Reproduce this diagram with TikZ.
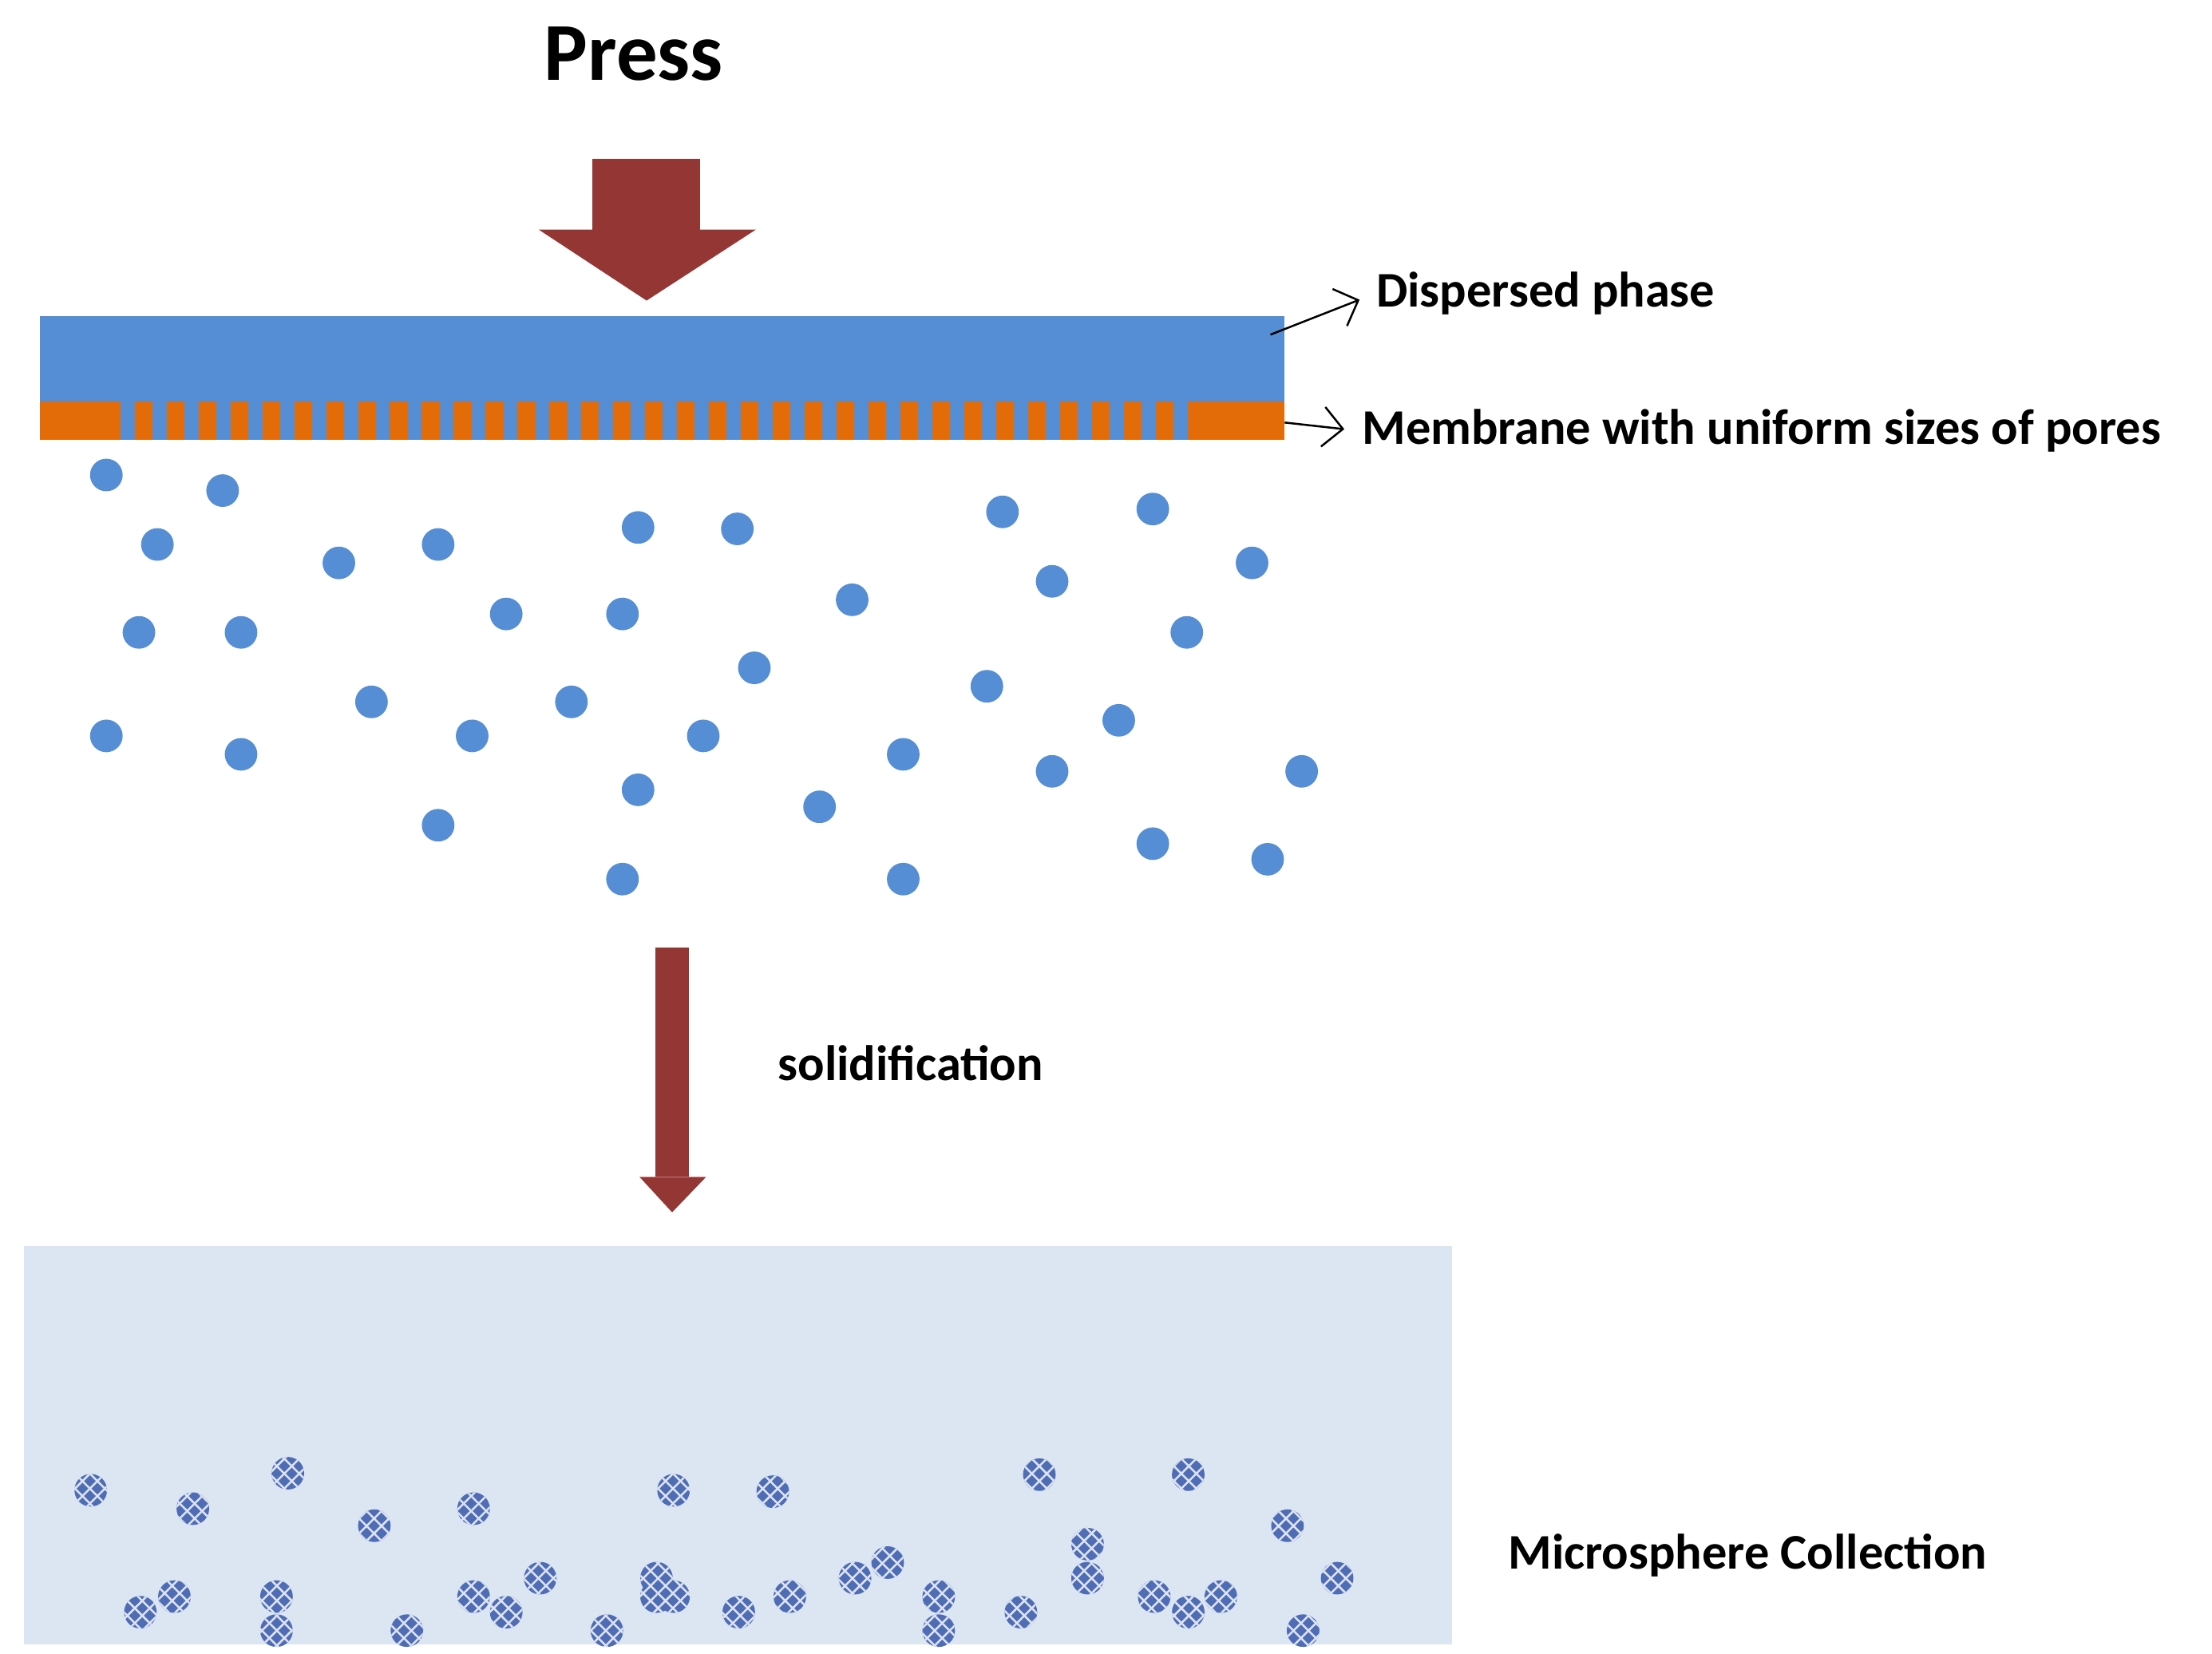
\documentclass[tikz,border=0pt]{standalone}
\usepackage{fontspec}
\setmainfont{Carlito}
\usetikzlibrary{arrows.meta, positioning, patterns}
\definecolor{drop}{HTML}{558ED5}
\definecolor{memb}{HTML}{E36C09}
\definecolor{press}{HTML}{943634}
\definecolor{bath}{HTML}{DCE6F2}
\definecolor{sphere}{HTML}{4F6DB5}
\tikzset{
  label/.style={font=\bfseries\fontsize{10}{12}\selectfont, anchor=west, inner sep=0pt},
  droplet/.style={circle, fill=drop, minimum size=2.3mm, inner sep=0pt},
  sphere/.style={circle, fill=sphere, minimum size=2.3mm, inner sep=0pt,
    postaction={pattern=crosshatch, pattern color=white!80!sphere}},
  pointer/.style={-{Straight Barb[length=1.4mm]}, thin, shorten >=1.2mm}
}
\begin{document}
\begin{tikzpicture}[x=0.1mm, y=-0.1mm]
            \useasboundingbox (0,0) rectangle (1560,1166);

            \node[font=\bfseries\fontsize{16.5}{20}\selectfont] (press) at (447,38) {Press};
            \fill[press] (418,112) rectangle (494,162);
            \fill[press] (380,162) -- (533,162) -- (456,212) -- cycle;

            \fill[drop] (28,223) rectangle (906,283);
            \fill[memb] (28,283) rectangle (906,310);
            \foreach \i in {0,...,34}
                \fill[drop] (75+\i*22.5+10,283) rectangle (75+\i*22.5+20,310);
            \fill[memb] (850,283) rectangle (906,310);

            \node[label] (disp) at (970,207) {Dispersed phase};
            \node[label] (mem) at (960,304) {Membrane with uniform sizes of pores};
            \coordinate (d0) at (896,236);
            \coordinate (m0) at (906,298);
            \draw[pointer] (d0) -- (disp.west);
            \draw[pointer] (m0) -- (mem.west);

            \foreach \x/\y [count=\n] in {75/335,157/346,111/384,239/397,309/384,450/372,520/373,
              707/361,813/359,883/397,742/410,98/446,170/446,357/433,439/433,601/423,837/446,
              532/471,696/484,262/495,403/495,75/519,170/532,333/519,496/519,637/532,789/508,
              742/544,918/544,450/557,578/569,309/582,813/595,894/606,439/620,637/620}
                \node[droplet] (drop\n) at (\x,\y) {};

            \fill[press] (462,668) rectangle (486,830);
            \fill[press] (451,830) -- (498,830) -- (474,855) -- cycle;
            \node[label] (solid) at (548,750) {solidification};

            \fill[bath] (17,879) rectangle (1024,1160);
            \foreach \x/\y [count=\n] in {64/1051,136/1064,203/1039,264/1076,334/1064,475/1051,
              545/1052,733/1040,838/1040,908/1076,767/1089,99/1137,123/1126,195/1126,195/1150,
              287/1150,334/1126,357/1137,381/1113,428/1150,463/1113,463/1126,475/1126,521/1137,
              557/1126,603/1113,626/1102,662/1126,662/1150,720/1137,767/1113,814/1126,838/1137,
              861/1126,919/1150,943/1113}
                \node[sphere] (ms\n) at (\x,\y) {};
            \node[label] (coll) at (1063,1097) {Microsphere Collection};
        \end{tikzpicture}
\end{document}
